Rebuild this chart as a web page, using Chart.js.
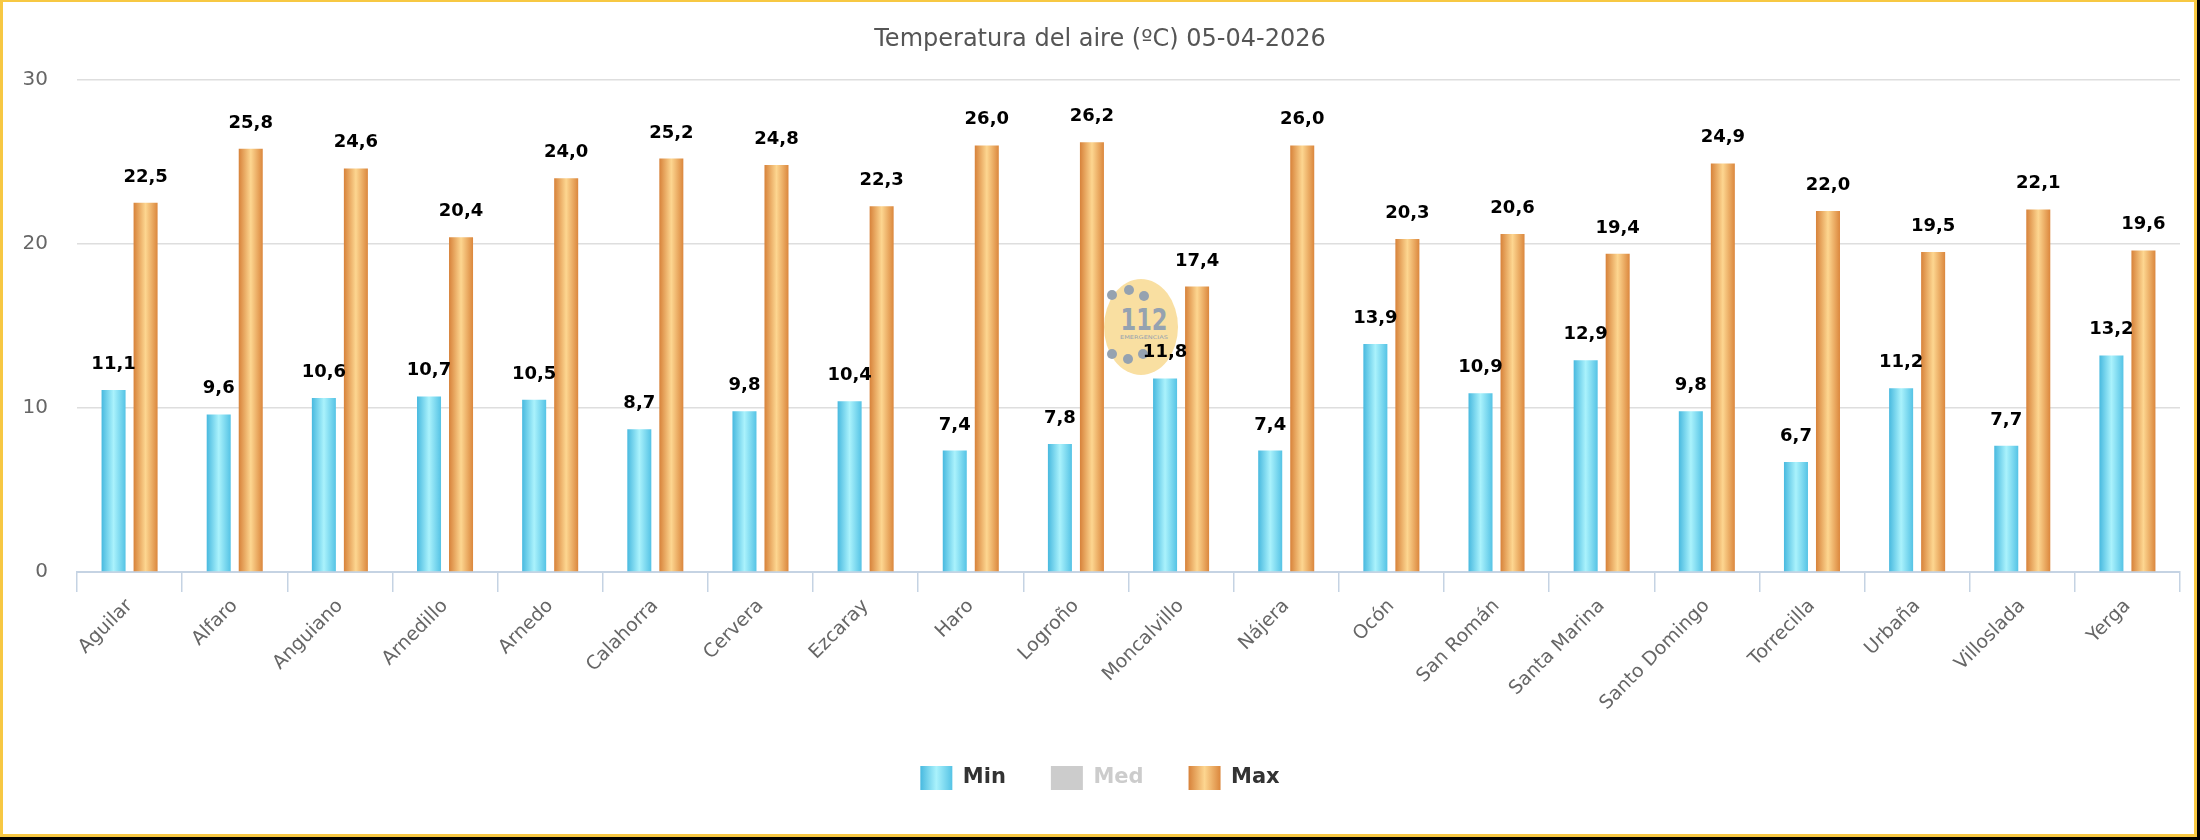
<!DOCTYPE html>
<html>
<head>
<meta charset="utf-8">
<script src="https://cdn.jsdelivr.net/npm/chart.js@4.4.1/dist/chart.umd.min.js"></script>
<style>
html,body{margin:0;padding:0;background:#000;overflow:hidden;width:2200px;height:840px}
#frame{position:absolute;left:0;top:0;width:2197px;height:837px;box-sizing:border-box;border:3px solid #f7c843;border-top-width:2px;background:#fff}
#logo{position:absolute;left:0;top:0}
#c{position:absolute;left:0;top:0}
</style>
</head>
<body>
<div id="frame"></div>
<svg id="logo" width="2200" height="840">
  <ellipse cx="1141" cy="327" rx="37" ry="48" fill="#f8d990" fill-opacity="0.85"/>
  <g fill="#95a2b0">
    <circle cx="1112" cy="295" r="5"/><circle cx="1129" cy="290" r="5"/><circle cx="1144" cy="296" r="5"/>
    <circle cx="1112" cy="354" r="5"/><circle cx="1128" cy="359" r="5"/><circle cx="1143" cy="354" r="5"/>
  </g>
  <text x="1144" y="330" font-family="DejaVu Sans" font-weight="bold" font-size="30" fill="#95a2b0" text-anchor="middle" textLength="47" lengthAdjust="spacingAndGlyphs">112</text>
  <text x="1144" y="339" font-family="DejaVu Sans" font-size="5" fill="#95a2b0" text-anchor="middle" textLength="48" lengthAdjust="spacingAndGlyphs">EMERGENCIAS</text>
</svg>
<canvas id="c" width="2200" height="840"></canvas>
<script>
const categories = ["Aguilar","Alfaro","Anguiano","Arnedillo","Arnedo","Calahorra","Cervera","Ezcaray","Haro","Logroño","Moncalvillo","Nájera","Ocón","San Román","Santa Marina","Santo Domingo","Torrecilla","Urbaña","Villoslada","Yerga"];
const minValues = [11.1, 9.6, 10.6, 10.7, 10.5, 8.7, 9.8, 10.4, 7.4, 7.8, 11.8, 7.4, 13.9, 10.9, 12.9, 9.8, 6.7, 11.2, 7.7, 13.2];
const medValues = [];
const maxValues = [22.5, 25.8, 24.6, 20.4, 24.0, 25.2, 24.8, 22.3, 26.0, 26.2, 17.4, 26.0, 20.3, 20.6, 19.4, 24.9, 22.0, 19.5, 22.1, 19.6];
const yTicks = [0, 10, 20, 30];
const seriesNames = ["Min", "Med", "Max"];
const titleText = "Temperatura del aire (ºC) 05-04-2026";

const CAT_PCT = 0.609, BAR_PCT = 0.75;
const blueStops = ["#48b9df", "#aaf2fc", "#55c3e5"];
const orangeStops = ["#d7823a", "#fdd690", "#db873d"];
const fmt = v => v.toFixed(1).replace('.', ',');

function grad(ctx, x0, x1, stops) {
  const g = ctx.createLinearGradient(x0, 0, x1, 0);
  g.addColorStop(0, stops[0]); g.addColorStop(0.5, stops[1]); g.addColorStop(1, stops[2]);
  return g;
}
function barFill(stops, slotIdx) {
  return function(c) {
    const chart = c.chart, xs = chart.scales && chart.scales.x;
    if (c.type !== 'data' || !xs || !xs.width) return stops[1];
    const cat = xs.width / categories.length;
    const slot = cat * CAT_PCT / 2;
    const bw = slot * BAR_PCT;
    const center = xs.getPixelForValue(c.dataIndex) + (slotIdx - 0.5) * slot;
    return grad(chart.ctx, center - bw / 2, center + bw / 2, stops);
  };
}

const valueLabels = {
  id: 'valueLabels',
  afterDatasetsDraw(chart) {
    const ctx = chart.ctx;
    ctx.save();
    ctx.font = 'bold 18px "DejaVu Sans"';
    ctx.fillStyle = '#000';
    ctx.textAlign = 'center';
    ctx.textBaseline = 'alphabetic';
    chart.data.datasets.forEach((ds, di) => {
      if (!chart.isDatasetVisible(di)) return;
      chart.getDatasetMeta(di).data.forEach((el, i) => {
        const v = ds.data[i];
        if (v == null) return;
        ctx.fillText(fmt(v), el.x, el.y - 21);
      });
    });
    ctx.restore();
  }
};

const legendStops = [blueStops, null, orangeStops];
let legendLefts = null;
const chart = new Chart(document.getElementById('c'), {
  type: 'bar',
  data: {
    labels: categories,
    datasets: [
      { label: seriesNames[0], data: minValues, backgroundColor: barFill(blueStops, 0), borderWidth: 0 },
      { label: seriesNames[1], data: medValues, backgroundColor: '#cccccc', hidden: true, borderWidth: 0 },
      { label: seriesNames[2], data: maxValues, backgroundColor: barFill(orangeStops, 1), borderWidth: 0 }
    ]
  },
  options: {
    responsive: false,
    animation: false,
    categoryPercentage: CAT_PCT,
    barPercentage: BAR_PCT,
    layout: { padding: { left: 20, right: 20, top: 0, bottom: 40 } },
    plugins: {
      tooltip: { enabled: false },
      title: {
        display: true, text: titleText, color: '#555555',
        font: { family: 'DejaVu Sans', size: 24, weight: 'normal' },
        padding: { top: 25, bottom: 26 }
      },
      legend: {
        position: 'bottom',
        labels: {
          boxWidth: 32, boxHeight: 24, padding: 45,
          font: { family: 'DejaVu Sans', size: 21, weight: 'bold' },
          generateLabels(ch) {
            const items = Chart.defaults.plugins.legend.labels.generateLabels(ch);
            return items.map((it, i) => {
              const hidden = !ch.isDatasetVisible(it.datasetIndex);
              let fill = hidden ? '#cccccc' : legendStops[i][1];
              if (!hidden && legendLefts) fill = grad(ch.ctx, legendLefts[i], legendLefts[i] + 32, legendStops[i]);
              return Object.assign({}, it, { hidden: false, fillStyle: fill, strokeStyle: 'rgba(0,0,0,0)', lineWidth: 0, fontColor: hidden ? '#cccccc' : '#333333' });
            });
          }
        }
      }
    },
    scales: {
      x: {
        offset: true,
        grid: { offset: true, drawOnChartArea: false, drawTicks: true, tickLength: 20, color: '#c5d3e3', lineWidth: 1.5 },
        border: { display: true, color: '#c5d3e3', width: 2 },
        ticks: { autoSkip: false, maxRotation: 45, minRotation: 45, padding: 3, color: '#666666', font: { family: 'DejaVu Sans', size: 19 } },
        afterFit(s) { s.height = 149; }
      },
      y: {
        min: 0, max: 30,
        afterBuildTicks(s) { s.ticks = yTicks.map(v => ({ value: v })); },
        grid: { color: '#dedede', lineWidth: 1.5, drawTicks: false },
        border: { display: false },
        ticks: { padding: 29, color: '#666666', font: { family: 'DejaVu Sans', size: 20 } },
        afterFit(s) { s.width = 57; }
      }
    }
  },
  plugins: [valueLabels]
});
legendLefts = chart.legend.legendHitBoxes.map(b => b.left);
chart.update('none');
</script>
</body>
</html>
